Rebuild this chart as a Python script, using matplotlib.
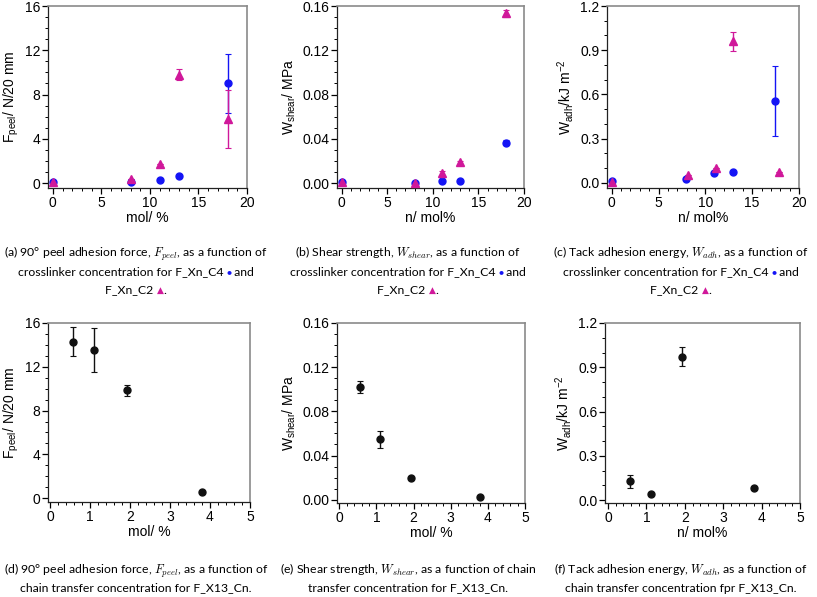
import matplotlib
matplotlib.use("Agg")
import matplotlib.pyplot as plt
from matplotlib.ticker import AutoMinorLocator, FormatStrFormatter

plt.rcParams['font.family'] = ['Liberation Sans', 'DejaVu Sans']
plt.rcParams['mathtext.fontset'] = 'custom'
plt.rcParams['mathtext.rm'] = 'Liberation Sans'
plt.rcParams['mathtext.it'] = 'Liberation Sans:italic'
plt.rcParams['mathtext.default'] = 'regular'

# ---- Daten ----
x_top = [0, 8, 11, 13, 18]

peel_c4 = [0.05, 0.1, 0.25, 0.6, 9.0]
peel_c4_err = [0, 0, 0, 0, 2.65]
peel_c2 = [0.05, 0.35, 1.7, 9.8, 5.8]
peel_c2_err = [0, 0, 0, 0.5, 2.6]

shear_c4 = [0.0005, 0.0002, 0.0018, 0.0015, 0.0365]
shear_c4_err = [0, 0, 0, 0, 0.0025]
shear_c2 = [0.0005, 0.0003, 0.0087, 0.0187, 0.1533]
shear_c2_err = [0, 0, 0.0025, 0.0015, 0.0028]

x_tack_c4 = [0, 7.9, 10.9, 12.9, 17.4]
tack_c4 = [0.015, 0.025, 0.068, 0.072, 0.555]
tack_c4_err = [0, 0, 0, 0, 0.24]
x_tack_c2 = [0, 8.1, 11.1, 13.0, 17.9]
tack_c2 = [0.008, 0.05, 0.104, 0.96, 0.074]
tack_c2_err = [0, 0, 0, 0.065, 0]

x_bot = [0.57, 1.11, 1.92, 3.8]
peel_cn = [14.3, 13.5, 9.85, 0.6]
peel_cn_err = [1.3, 2.0, 0.5, 0]
shear_cn = [0.102, 0.0547, 0.0199, 0.002]
shear_cn_err = [0.0055, 0.0078, 0, 0]
tack_cn = [0.126, 0.038, 0.971, 0.079]
tack_cn_err = [0.046, 0, 0.064, 0]

BLAU = '#1414f5'
MAGENTA = '#d0189a'
SCHWARZ = '#111111'

fig = plt.figure(figsize=(8.17, 5.97), dpi=100)
W, H = 817, 597


def achse(l, r, t, b):
    return fig.add_axes([l / W, (H - b) / H, (r - l) / W, (b - t) / H])


def stil(ax, xlim, ylim, yticks, fmt, xmaj, xminor, yminor):
    ax.set_xlim(*xlim)
    ax.set_ylim(*ylim)
    ax.set_yticks(yticks)
    ax.yaxis.set_major_formatter(FormatStrFormatter(fmt))
    ax.set_xticks([i * xmaj for i in range(int(round(xlim[1] / xmaj)) + 1)])
    ax.xaxis.set_minor_locator(AutoMinorLocator(xminor))
    ax.yaxis.set_minor_locator(AutoMinorLocator(yminor))
    ax.tick_params(which='major', direction='out', length=4, width=0.9, labelsize=10, pad=1.5)
    ax.tick_params(which='minor', direction='out', length=2, width=0.7)
    for s in ['top', 'right']:
        ax.spines[s].set_color('#8a8a8a')
        ax.spines[s].set_linewidth(1.2)
    for s in ['left', 'bottom']:
        ax.spines[s].set_color('#222222')
        ax.spines[s].set_linewidth(0.9)


def punkte(ax, x, y, err, farbe, marker):
    ms = 6.2 if marker == '^' else 5
    ax.errorbar(x, y, yerr=err, fmt=marker, color=farbe, ms=ms, elinewidth=1.0,
                capsize=2, capthick=0.8, ecolor=farbe, zorder=3)


# obere Reihe
ax1 = achse(48, 247, 6, 188)
punkte(ax1, x_top, peel_c4, peel_c4_err, BLAU, 'o')
punkte(ax1, x_top, peel_c2, peel_c2_err, MAGENTA, '^')
stil(ax1, (-0.5, 20), (-0.45, 16), [0, 4, 8, 12, 16], '%d', 5, 5, 4)
ax1.set_xlabel('mol/ %', fontsize=10, labelpad=1)
ax1.set_ylabel('F$_{peel}$/ N/20 mm', fontsize=10, labelpad=3)

ax2 = achse(337, 524, 6, 188)
punkte(ax2, x_top, shear_c4, shear_c4_err, BLAU, 'o')
punkte(ax2, x_top, shear_c2, shear_c2_err, MAGENTA, '^')
stil(ax2, (-0.5, 20), (-0.0045, 0.16), [0, 0.04, 0.08, 0.12, 0.16], '%.2f', 5, 5, 4)
ax2.set_xlabel('n/ mol%', fontsize=10, labelpad=1)
ax2.set_ylabel('W$_{shear}$/ MPa', fontsize=10, labelpad=3)

ax3 = achse(607, 799, 6, 188)
punkte(ax3, x_tack_c4, tack_c4, tack_c4_err, BLAU, 'o')
punkte(ax3, x_tack_c2, tack_c2, tack_c2_err, MAGENTA, '^')
stil(ax3, (-0.5, 20), (-0.035, 1.2), [0, 0.3, 0.6, 0.9, 1.2], '%.1f', 5, 5, 3)
ax3.set_xlabel('n/ mol%', fontsize=10, labelpad=1)
ax3.set_ylabel('W$_{adh}$/kJ m$^{-2}$', fontsize=10, labelpad=3)

# untere Reihe
ax4 = achse(48, 250, 323, 502)
punkte(ax4, x_bot, peel_cn, peel_cn_err, SCHWARZ, 'o')
stil(ax4, (-0.05, 5), (-0.35, 16), [0, 4, 8, 12, 16], '%d', 1, 5, 4)
ax4.set_xlabel('mol/ %', fontsize=10, labelpad=1)
ax4.set_ylabel('F$_{peel}$/ N/20 mm', fontsize=10, labelpad=3)

ax5 = achse(337, 525, 323, 503)
punkte(ax5, x_bot, shear_cn, shear_cn_err, SCHWARZ, 'o')
stil(ax5, (-0.06, 5), (-0.003, 0.16), [0, 0.04, 0.08, 0.12, 0.16], '%.2f', 1, 5, 4)
ax5.set_xlabel('mol/ %', fontsize=10, labelpad=1)
ax5.set_ylabel('W$_{shear}$/ MPa', fontsize=10, labelpad=3)

ax6 = achse(605, 800, 323, 503)
punkte(ax6, x_bot, tack_cn, tack_cn_err, SCHWARZ, 'o')
stil(ax6, (-0.08, 5), (-0.02, 1.2), [0, 0.3, 0.6, 0.9, 1.2], '%.1f', 1, 5, 3)
ax6.set_xlabel('n/ mol%', fontsize=10, labelpad=1)
ax6.set_ylabel('W$_{adh}$/kJ m$^{-2}$', fontsize=10, labelpad=3)

# Bildunterschriften
CAP_FONT = ['Lato', 'DejaVu Sans']
CAP_SIZE = 8.8


def zeile(xc, y, teile):
    texte = []
    for s, farbe, fs in teile:
        t = fig.text(0, 1 - y / H, s, color=farbe, fontsize=fs, family=CAP_FONT,
                     math_fontfamily='cm', ha='left', va='center')
        texte.append(t)
    r = fig.canvas.get_renderer()
    breiten = [t.get_window_extent(r).width for t in texte]
    start = xc - sum(breiten) / 2
    for t, b in zip(texte, breiten):
        t.set_x(start / W)
        start += b


K = '#000000'
spalten = [136, 408, 681]
zeile(spalten[0], 253, [(r'(a) 90° peel adhesion force, $\mathit{F_{peel}}$, as a function of', K, CAP_SIZE)])
zeile(spalten[0], 272, [('crosslinker concentration for F_Xn_C4 ', K, CAP_SIZE), ('●', BLAU, 6), (' and', K, CAP_SIZE)])
zeile(spalten[0], 290, [('F_Xn_C2 ', K, CAP_SIZE), ('▲', MAGENTA, 6.5), ('.', K, CAP_SIZE)])

zeile(spalten[1], 253, [(r'(b) Shear strength, $\mathit{W_{shear}}$, as a function of', K, CAP_SIZE)])
zeile(spalten[1], 272, [('crosslinker concentration for F_Xn_C4 ', K, CAP_SIZE), ('●', BLAU, 6), (' and', K, CAP_SIZE)])
zeile(spalten[1], 290, [('F_Xn_C2 ', K, CAP_SIZE), ('▲', MAGENTA, 6.5), ('.', K, CAP_SIZE)])

zeile(spalten[2], 253, [(r'(c) Tack adhesion energy, $\mathit{W_{adh}}$, as a function of', K, CAP_SIZE)])
zeile(spalten[2], 272, [('crosslinker concentration for F_Xn_C4 ', K, CAP_SIZE), ('●', BLAU, 6), (' and', K, CAP_SIZE)])
zeile(spalten[2], 290, [('F_Xn_C2 ', K, CAP_SIZE), ('▲', MAGENTA, 6.5), ('.', K, CAP_SIZE)])

zeile(spalten[0], 570, [(r'(d) 90° peel adhesion force, $\mathit{F_{peel}}$, as a function of', K, CAP_SIZE)])
zeile(spalten[0], 588, [('chain transfer concentration for F_X13_Cn.', K, CAP_SIZE)])
zeile(spalten[1], 570, [(r'(e) Shear strength, $\mathit{W_{shear}}$, as a function of chain', K, CAP_SIZE)])
zeile(spalten[1], 588, [('transfer concentration for F_X13_Cn.', K, CAP_SIZE)])
zeile(spalten[2], 570, [(r'(f) Tack adhesion energy, $\mathit{W_{adh}}$, as a function of', K, CAP_SIZE)])
zeile(spalten[2], 588, [('chain transfer concentration fpr F_X13_Cn.', K, CAP_SIZE)])

fig.savefig('out.png', dpi=100)
